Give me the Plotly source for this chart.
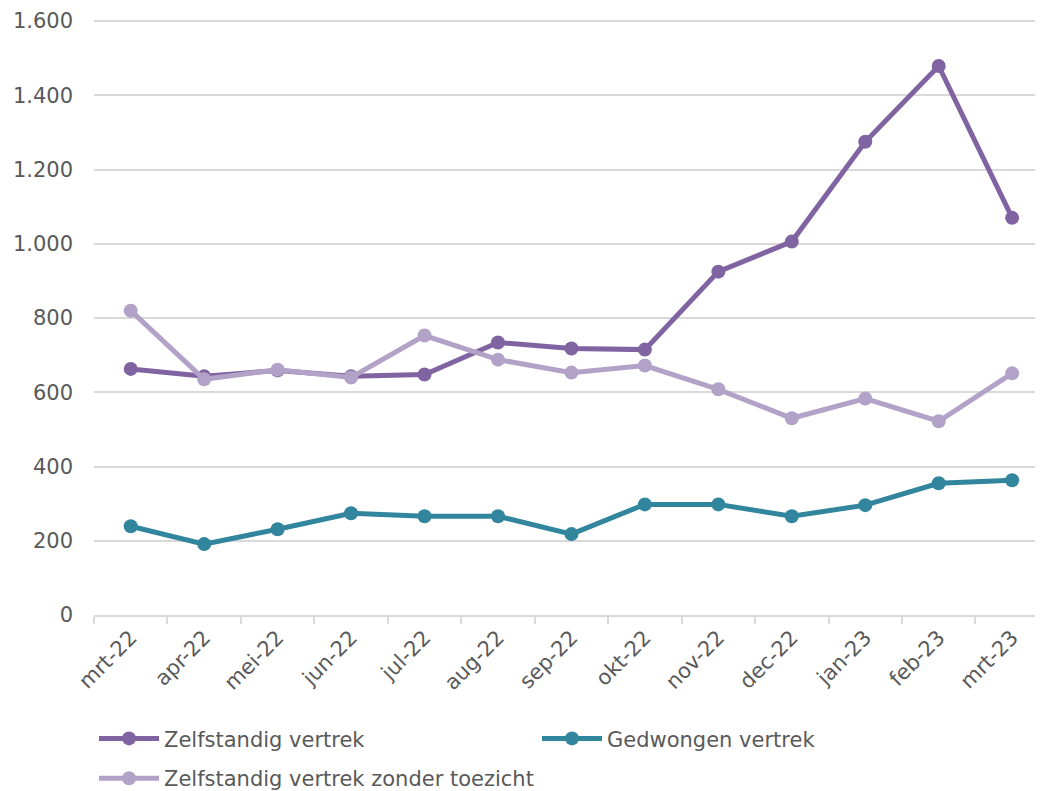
import plotly.graph_objects as go

months = ["mrt-22", "apr-22", "mei-22", "jun-22", "jul-22", "aug-22", "sep-22",
          "okt-22", "nov-22", "dec-22", "jan-23", "feb-23", "mrt-23"]
zelfstandig = [663, 643, 659, 643, 648, 734, 718, 715, 925, 1006, 1275, 1479, 1070]
gedwongen = [239, 191, 231, 274, 266, 266, 218, 298, 298, 266, 296, 355, 363]
zonder_toezicht = [820, 635, 661, 640, 753, 688, 653, 672, 608, 530, 583, 522, 651]

FONT = "Verdana, DejaVu Sans, sans-serif"
TXT = "#595959"
FS = 21

fig = go.Figure()
series = [
    ("Zelfstandig vertrek", zelfstandig, "#8064a2", "legend"),
    ("Gedwongen vertrek", gedwongen, "#31859c", "legend"),
    ("Zelfstandig vertrek zonder toezicht", zonder_toezicht, "#b3a2c7", "legend2"),
]
for name, vals, col, lg in series:
    fig.add_trace(go.Scatter(
        x=months, y=vals, name=name, mode="lines+markers",
        line=dict(color=col, width=5),
        marker=dict(color=col, size=14),
        legend=lg, cliponaxis=False,
    ))

legend_common = dict(
    orientation="h", xanchor="left", yanchor="middle",
    font=dict(family=FONT, color=TXT, size=FS),
    traceorder="normal", itemwidth=60, bgcolor="rgba(0,0,0,0)",
)

fig.update_layout(
    width=1043, height=791,
    margin=dict(l=86, r=8, t=12, b=184, autoexpand=False),
    paper_bgcolor="white", plot_bgcolor="white",
    separators=",.",
    font=dict(family=FONT, color=TXT, size=FS),
    showlegend=True,
    legend=dict(**legend_common, x=0.0, y=-0.208,
                entrywidth=368, entrywidthmode="pixels"),
    legend2=dict(**legend_common, x=0.0, y=-0.275),
    xaxis=dict(
        type="category", range=[-0.5, 12.42], automargin=False,
        showgrid=False, showline=True, linecolor="#d9d9d9", linewidth=2,
        ticks="outside", tickson="boundaries", ticklen=7, tickcolor="#d9d9d9", tickwidth=2,
        tickangle=-45, tickfont=dict(family=FONT, color=TXT, size=FS),
        zeroline=False,
    ),
    yaxis=dict(
        range=[0, 1603], tickmode="array",
        tickvals=[0, 200, 400, 600, 800, 1000, 1200, 1400, 1600],
        tickformat=",d", automargin=False, ticklabeloverflow="allow",
        showgrid=True, gridcolor="#d9d9d9", gridwidth=1.5,
        showline=False, zeroline=False, ticks="", ticklen=0,
        ticklabelstandoff=20,
        tickfont=dict(family=FONT, color=TXT, size=FS),
    ),
)

fig.write_html("out.html")
